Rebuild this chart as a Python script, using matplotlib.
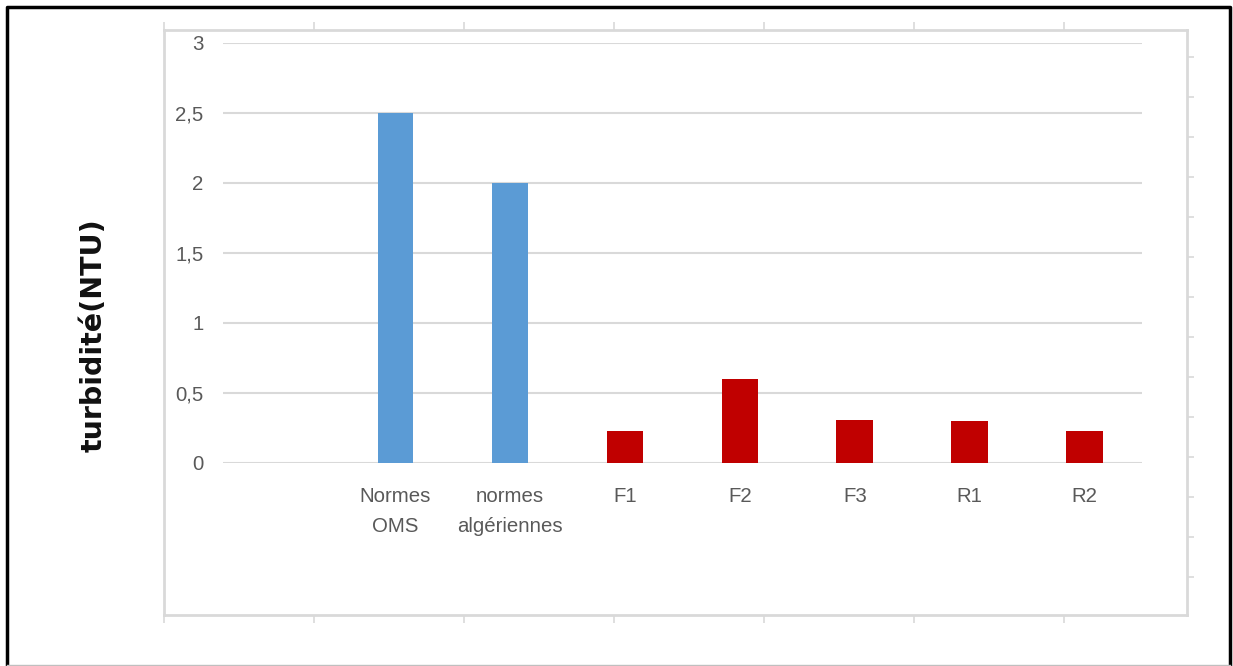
import matplotlib.pyplot as plt
import numpy as np
from matplotlib.lines import Line2D

# données de turbidité (NTU)
categories = ['', 'Normes\nOMS', 'normes\nalgériennes', 'F1', 'F2', 'F3', 'R1', 'R2']
normes = [2.5, 2.0]
echantillons = [0.23, 0.6, 0.31, 0.30, 0.23]
yticks = [0, 0.5, 1, 1.5, 2, 2.5, 3]
ytick_labels = ['0', '0,5', '1', '1,5', '2', '2,5', '3']

W, H = 1233, 666
fig = plt.figure(figsize=(W / 100, H / 100), dpi=100)
plt.rcParams['font.family'] = ['Liberation Sans', 'DejaVu Sans']

# cadre gris de la zone du graphique, avec ses petits traits
frame = fig.add_axes([164 / W, 1 - 615 / H, (1187 - 164) / W, (615 - 30) / H])
frame.set_xlim(164, 1187)
frame.set_ylim(615, 30)
frame.patch.set_alpha(0)
for s in frame.spines.values():
    s.set_color('#d9d9d9')
    s.set_linewidth(2)
frame.set_xticks(np.arange(164, 1187, 150))
frame.set_yticks(np.arange(57, 600, 40))
frame.tick_params(axis='x', top=True, bottom=True, direction='out', length=6,
                  width=1.2, color='#d9d9d9', labelbottom=False)
frame.tick_params(axis='y', left=False, right=True, direction='out', length=5,
                  width=1.2, color='#d9d9d9', labelleft=False)

ax = fig.add_axes([223 / W, 1 - 463 / H, (1142 - 223) / W, (463 - 43) / H])
x = np.arange(len(categories))
ax.bar(x[1:3], normes, width=0.31, color='#5b9bd5', zorder=3)
ax.bar(x[3:], echantillons, width=0.32, color='#c00000', zorder=3)

ax.set_xlim(-0.5, len(categories) - 0.5)
ax.set_ylim(0, 3)
ax.set_yticks(yticks)
ax.set_yticklabels(ytick_labels)
ax.set_xticks(x)
ax.set_xticklabels(categories, linespacing=1.75)
ax.tick_params(axis='both', length=0, labelsize=14.7, labelcolor='#595959')
ax.tick_params(axis='y', pad=14)
ax.tick_params(axis='x', pad=17)
ax.grid(axis='y', color='#d9d9d9', linewidth=1.5, zorder=0)
for s in ax.spines.values():
    s.set_visible(False)

fig.text(94 / W, 1 - 335 / H, 'turbidité(NTU)', rotation=90, ha='center', va='center',
         fontsize=20.5, fontweight='bold', family='DejaVu Sans', color='#111111')

# bordure noire autour de la figure
x0, x1, y0, y1 = 7 / W, 1230 / W, 1 - 7 / H, 1 - 665 / H
fig.add_artist(Line2D([x0, x0, x1, x1], [y1, y0, y0, y1], color='black', linewidth=2.5))
fig.add_artist(Line2D([x0, x1], [y1, y1], color='#bfbfbf', linewidth=1))

fig.savefig('out.png', dpi=100)
